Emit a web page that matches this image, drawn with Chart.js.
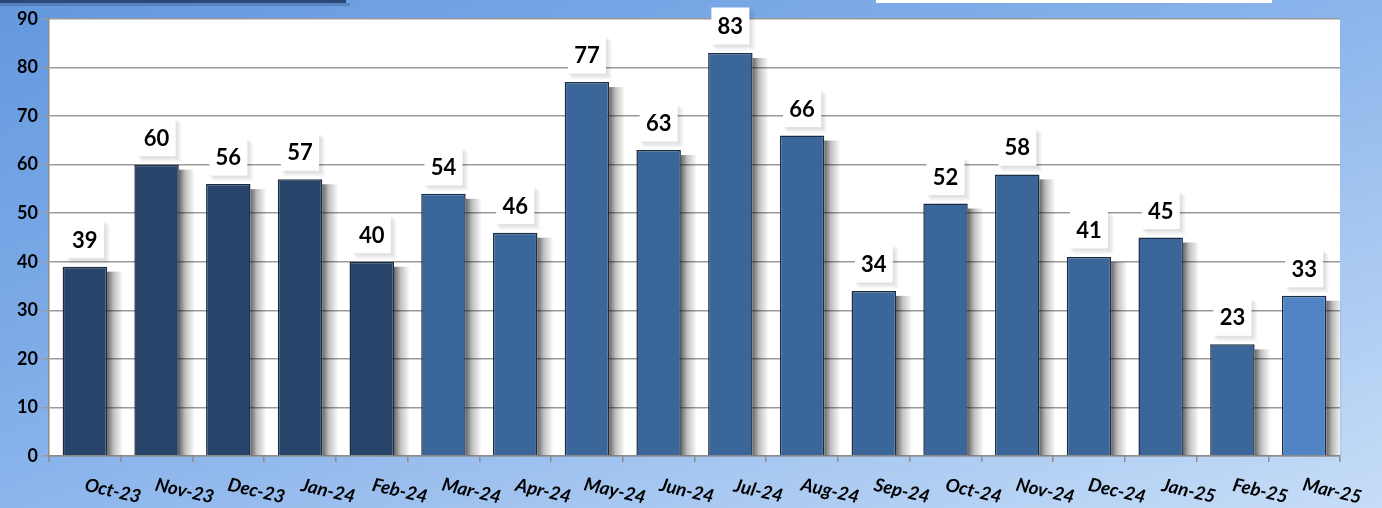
<!DOCTYPE html>
<html>
<head>
<meta charset="utf-8">
<script src="https://cdn.jsdelivr.net/npm/chart.js@4/dist/chart.umd.min.js"></script>
<style>
  html, body { margin: 0; padding: 0; }
  body { width: 1382px; height: 508px; overflow: hidden;
         background: linear-gradient(160deg, #6398de 0%, #86b1ea 45%, #c6ddf7 100%); }
  #wrap { position: relative; width: 1382px; height: 508px; }
</style>
</head>
<body>
<div id="wrap"><canvas id="monthChart" width="1382" height="508"></canvas></div>
<script>
const months = ['Oct-23', 'Nov-23', 'Dec-23', 'Jan-24', 'Feb-24', 'Mar-24', 'Apr-24', 'May-24', 'Jun-24',
  'Jul-24', 'Aug-24', 'Sep-24', 'Oct-24', 'Nov-24', 'Dec-24', 'Jan-25', 'Feb-25', 'Mar-25'];
const counts = [39, 60, 56, 57, 40, 54, 46, 77, 63, 83, 66, 34, 52, 58, 41, 45, 23, 33];
const yTicks = [0, 10, 20, 30, 40, 50, 60, 70, 80, 90];

// bar colours: older months darker, latest month lighter
const barColors = months.map((m, i) => {
  if (i < 5) return '#28446a';
  if (i === months.length - 1) return '#5084c4';
  return '#3a6699';
});

const FONT = 'Lato, "Open Sans", sans-serif';

// white plot area + top decorations
const backdrop = {
  id: 'backdrop',
  beforeDraw(chart) {
    const { ctx, chartArea: a } = chart;
    ctx.save();
    ctx.fillStyle = '#2b4a7a';
    ctx.fillRect(0, 0, 346, 3);
    ctx.fillStyle = 'rgba(30,50,90,0.25)';
    ctx.fillRect(0, 3, 350, 3);
    ctx.fillStyle = '#ffffff';
    ctx.fillRect(876, 0, 396, 3);
    ctx.fillStyle = '#ffffff';
    ctx.fillRect(a.left, a.top, a.right - a.left, a.bottom - a.top);
    ctx.restore();
  }
};

// grey shadow to the right of each bar
const barShadow = {
  id: 'barShadow',
  beforeDatasetsDraw(chart) {
    const ctx = chart.ctx;
    const meta = chart.getDatasetMeta(0);
    ctx.save();
    meta.data.forEach(bar => {
      const p = bar.getProps(['x', 'y', 'base', 'width'], true);
      const r = p.x + p.width / 2;
      const g = ctx.createLinearGradient(r, 0, r + 16, 0);
      g.addColorStop(0, 'rgba(0,0,0,0.6)');
      g.addColorStop(0.4, 'rgba(0,0,0,0.25)');
      g.addColorStop(1, 'rgba(0,0,0,0)');
      ctx.fillStyle = g;
      ctx.fillRect(r, p.y + 5, 16, p.base - p.y - 5);
    });
    ctx.restore();
  }
};

// value labels in white boxes
const valueBoxes = {
  id: 'valueBoxes',
  afterDatasetsDraw(chart) {
    const ctx = chart.ctx;
    const meta = chart.getDatasetMeta(0);
    ctx.save();
    ctx.font = 'bold 22px ' + FONT;
    ctx.textAlign = 'center';
    ctx.textBaseline = 'middle';
    meta.data.forEach((bar, i) => {
      const txt = String(counts[i]);
      const w = 38;
      const h = 37;
      const cy = bar.y - 27;
      const bx = bar.x - w / 2;
      const by = cy - h / 2;
      // soft layered shadow, bottom-right
      for (let k = 1; k <= 5; k++) {
        ctx.fillStyle = 'rgba(0,0,0,0.025)';
        ctx.fillRect(bx + k - 1, by + k - 1, w + 2, h + 2);
      }
      ctx.fillStyle = '#ffffff';
      ctx.fillRect(bx, by, w, h);
      ctx.fillStyle = '#000000';
      ctx.fillText(txt, bar.x, cy + 1);
    });
    ctx.restore();
  }
};

// slanted month labels (clockwise)
const monthLabels = {
  id: 'monthLabels',
  afterDraw(chart) {
    const ctx = chart.ctx;
    const xs = chart.scales.x;
    ctx.save();
    ctx.font = 'italic bold 18.5px ' + FONT;
    ctx.fillStyle = '#000000';
    ctx.textAlign = 'center';
    ctx.textBaseline = 'middle';
    months.forEach((m, i) => {
      const x = xs.getPixelForValue(i) + 28;
      ctx.save();
      ctx.translate(x, 491);
      ctx.rotate(13 * Math.PI / 180);
      ctx.fillText(m, 0, 0);
      ctx.restore();
    });
    ctx.restore();
  }
};

new Chart(document.getElementById('monthChart'), {
  type: 'bar',
  data: {
    labels: months,
    datasets: [{
      data: counts,
      backgroundColor: barColors,
      borderColor: '#1a2c44',
      borderWidth: 1.5,
      barPercentage: 0.62,
      categoryPercentage: 1
    }]
  },
  options: {
    responsive: false,
    animation: false,
    devicePixelRatio: 1,
    layout: { padding: { left: 0, top: 19, right: 42, bottom: 0 } },
    plugins: { legend: { display: false }, tooltip: { enabled: false } },
    scales: {
      x: {
        grid: { offset: true, drawOnChartArea: false, color: '#8c8c8c', lineWidth: 1.5, tickLength: 6 },
        border: { color: '#8c8c8c', width: 1.5 },
        ticks: { display: false },
        afterFit(scale) { scale.height = 52; }
      },
      y: {
        min: 0,
        max: 90,
        afterBuildTicks(scale) { scale.ticks = yTicks.map(v => ({ value: v })); },
        grid: { color: '#9a9a9a', lineWidth: 1.5, tickLength: 7 },
        border: { color: '#8c8c8c', width: 1.5 },
        ticks: { color: '#000000', font: { family: FONT, size: 18, weight: 'bold' }, padding: 4 },
        afterFit(scale) { scale.width = 49; }
      }
    }
  },
  plugins: [backdrop, barShadow, valueBoxes, monthLabels]
});
</script>
</body>
</html>
